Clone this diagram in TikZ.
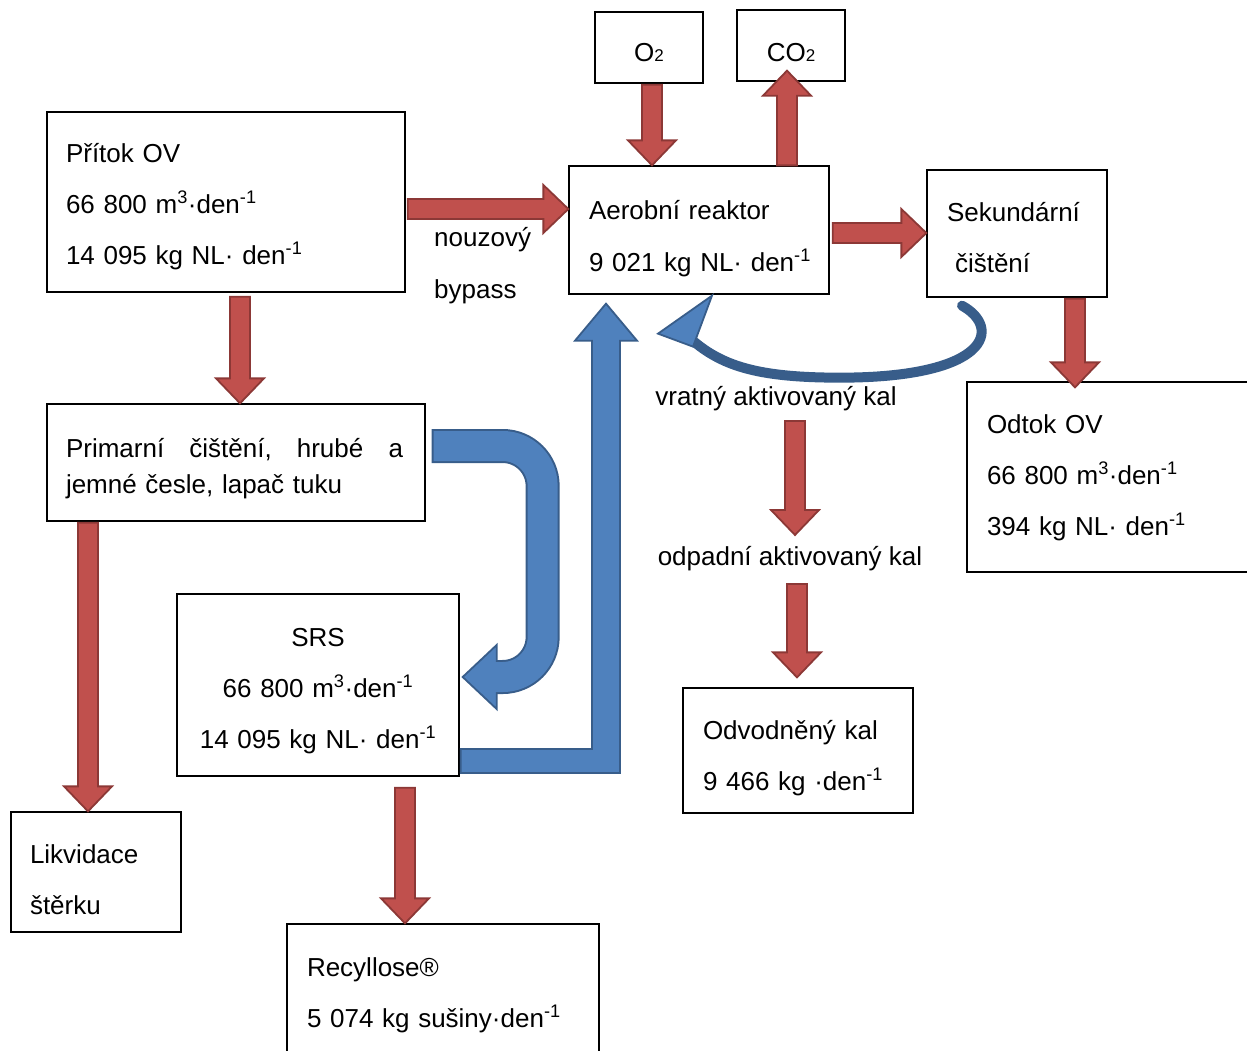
\documentclass[tikz,border=0pt]{standalone}
\usepackage{fontspec}
\setmainfont{Liberation Sans}
\usetikzlibrary{calc}

\definecolor{redfill}{HTML}{C0504D}
\definecolor{redline}{HTML}{8C3836}
\definecolor{bluefill}{HTML}{4F81BD}
\definecolor{blueline}{HTML}{385D8A}

% sipky: #1 = zacatek, #2 = hrot
\newcommand\downflow[2]{%
  \filldraw[redflow] ([xshift=-10pt]#1) -- ([shift={(-10,-25)}]#2) -- ([shift={(-24,-25)}]#2) -- (#2)
    -- ([shift={(24,-25)}]#2) -- ([shift={(10,-25)}]#2) -- ([xshift=10pt]#1) -- cycle;}
\newcommand\upflow[2]{%
  \filldraw[redflow] ([xshift=-10pt]#1) -- ([shift={(-10,25)}]#2) -- ([shift={(-24,25)}]#2) -- (#2)
    -- ([shift={(24,25)}]#2) -- ([shift={(10,25)}]#2) -- ([xshift=10pt]#1) -- cycle;}
\newcommand\rightflow[2]{%
  \filldraw[redflow] ([yshift=10pt]#1) -- ([shift={(-25,-10)}]#2) -- ([shift={(-25,-24)}]#2) -- (#2)
    -- ([shift={(-25,24)}]#2) -- ([shift={(-25,10)}]#2) -- ([yshift=-10pt]#1) -- cycle;}

\begin{document}
\begin{tikzpicture}[x=1pt, y=-1pt,
    box/.style={draw, line width=1.3pt, fill=white, align=left, inner ysep=0pt,
                text height=0pt, font=\fontsize{26}{51}\selectfont},
    lbl/.style={font=\fontsize{26}{52}\selectfont, align=left, inner sep=0pt},
    redflow/.style={fill=redfill, draw=redline, line width=1.8pt},
    blueflow/.style={fill=bluefill, draw=blueline, line width=1.8pt}]

    \useasboundingbox (0,0) rectangle (1247,1050);

    % =================================================================
    % 1. BLOKY
    % =================================================================
    \node[box, minimum width=358pt, minimum height=180pt, text width=320pt, inner xsep=19pt, text depth=80pt]
        (pritok) at (226,202) {Přítok OV\\66 800 m\textsuperscript{3}·den\textsuperscript{-1}\\14 095 kg NL· den\textsuperscript{-1}};
    \node[box, minimum width=108pt, minimum height=71pt, align=center, text height=27pt, text depth=0pt]
        (o2) at (649,47.5) {O{\fontsize{17}{20}\selectfont 2}};
    \node[box, minimum width=108pt, minimum height=71pt, align=center, text height=31pt, text depth=0pt]
        (co2) at (791,45.5) {CO{\fontsize{17}{20}\selectfont 2}};
    \node[box, minimum width=260pt, minimum height=128pt, text width=220pt, inner xsep=20pt, text depth=22pt,
          font=\fontsize{26}{52}\selectfont]
        (aerob) at (699,230) {Aerobní reaktor\\\mbox{9 021 kg NL· den\textsuperscript{-1}}};
    \node[box, minimum width=180pt, minimum height=127pt, text width=140pt, inner xsep=20pt, text depth=25pt]
        (sekund) at (1017,233.5) {Sekundární\\\hspace*{8pt}čištění};
    \node[box, minimum width=378pt, minimum height=117pt, text width=340pt, inner xsep=19pt, text depth=11pt,
          font=\fontsize{26}{36}\selectfont]
        (primar) at (236,462.5) {\makebox[337pt][l]{Primarní\hfill čištění,\hfill hrubé\hfill a}\\jemné česle, lapač tuku};
    \node[box, minimum width=282pt, minimum height=190pt, text width=242pt, inner xsep=20pt, text depth=88pt]
        (odtok) at (1108,477) {Odtok OV\\66 800 m\textsuperscript{3}·den\textsuperscript{-1}\\394 kg NL· den\textsuperscript{-1}};
    \node[box, minimum width=282pt, minimum height=182pt, text width=262pt, inner xsep=10pt, align=center, text depth=78pt]
        (srs) at (318,685) {SRS\\66 800 m\textsuperscript{3}·den\textsuperscript{-1}\\14 095 kg NL· den\textsuperscript{-1}};
    \node[box, minimum width=230pt, minimum height=125pt, text width=190pt, inner xsep=20pt, text depth=23pt]
        (odvod) at (798,750.5) {Odvodněný kal\\9 466 kg ·den\textsuperscript{-1}};
    \node[box, minimum width=170pt, minimum height=120pt, text width=132pt, inner xsep=19pt, text depth=18pt]
        (likvid) at (96,872) {Likvidace\\štěrku};
    \node[box, minimum width=312pt, minimum height=140pt, text width=272pt, inner xsep=20pt, text depth=36pt]
        (recyl) at (443,994) {Recyllose®\\5 074 kg sušiny·den\textsuperscript{-1}};

    % popisky
    \node[lbl, anchor=west] (bypass) at (434,266) {nouzový\\bypass};
    \node[lbl] (vratny) at (776,399) {vratný aktivovaný kal};
    \node[lbl] (odpad) at (790,559) {odpadní aktivovaný kal};

    % =================================================================
    % 2. CERVENE SIPKY
    % =================================================================
    \coordinate (a1) at ($(pritok.south)+(14,4)$);
    \downflow{a1}{a1 |- primar.north}
    \coordinate (a2) at ($(pritok.east)+(2,7)$);
    \rightflow{a2}{a2 -| aerob.west}
    \coordinate (a3) at ($(o2.south)+(3,1)$);
    \downflow{a3}{a3 |- aerob.north}
    \coordinate (a4) at ($(aerob.north)+(88,0)$);
    \coordinate (a4t) at ($(a4 |- co2.south)+(0,-11)$);
    \upflow{a4}{a4t}
    \coordinate (a5) at ($(aerob.east)+(3,3)$);
    \rightflow{a5}{a5 -| sekund.west}
    \coordinate (a6) at ($(sekund.south)+(58,1)$);
    \coordinate (a6t) at ($(a6 |- odtok.north)+(0,6)$);
    \downflow{a6}{a6t}
    \coordinate (a7) at ($(primar.south)+(-148,1)$);
    \downflow{a7}{a7 |- likvid.north}
    \coordinate (a8) at (795,421);
    \coordinate (a8t) at (795,535);
    \downflow{a8}{a8t}
    \coordinate (a9) at (797,584);
    \coordinate (a9t) at ($(a9 |- odvod.north)+(0,-10)$);
    \downflow{a9}{a9t}
    \coordinate (a10) at ($(srs.south)+(87,11)$);
    \downflow{a10}{a10 |- recyl.north}

    % =================================================================
    % 3. MODRE SIPKY
    % =================================================================
    % primarni -> SRS
    \coordinate (us) at ($(primar.east)+(6,-16.5)$);
    \coordinate (uc) at ($(us)+(111,0)$);
    \coordinate (ut) at ($(srs.east)+(3,-8)$);
    \coordinate (ub) at ($(ut)+(34,0)$);
    \draw[blueline, line width=34pt, rounded corners=40pt] (us) -- (uc) -- (uc |- ut) -- (ub);
    \filldraw[blueflow] (ut) -- ([shift={(34,-32)}]ut) -- ([shift={(34,32)}]ut) -- cycle;
    \draw[bluefill, line width=30pt, rounded corners=40pt, shorten <=2pt, shorten >=-4pt]
        (us) -- (uc) -- (uc |- ut) -- (ub);

    % SRS -> aerobni reaktor
    \coordinate (rs) at ($(srs.east)+(1,76)$);
    \coordinate (rt) at ($(aerob.south)+(-93,9)$);
    \coordinate (rc) at (rt |- rs);
    \filldraw[blueflow] ([shift={(0,-12)}]rs) -- ([shift={(-14,-12)}]rc) -- ([shift={(-14,37)}]rt)
        -- ([shift={(-31,37)}]rt) -- (rt) -- ([shift={(31,37)}]rt) -- ([shift={(14,37)}]rt)
        -- ([shift={(14,12)}]rc) -- ([shift={(0,12)}]rs) -- cycle;

    % vratny kal
    \coordinate (vs) at ($(sekund.south)+(-55,8)$);
    \coordinate (vt) at ($(aerob.south)+(-41,39)$);
    \draw[blueline, line width=10pt, line cap=round]
        (vs) .. controls +(40,22) and +(150,0) .. ($(vt)+(182,44)$)
             .. controls +(-80,0) and +(30,25) .. ($(vt)+(36,8)$);
    \filldraw[blueflow] (vt) -- ([shift={(54,-38)}]vt) -- ([shift={(35,13)}]vt) -- cycle;

\end{tikzpicture}
\end{document}
